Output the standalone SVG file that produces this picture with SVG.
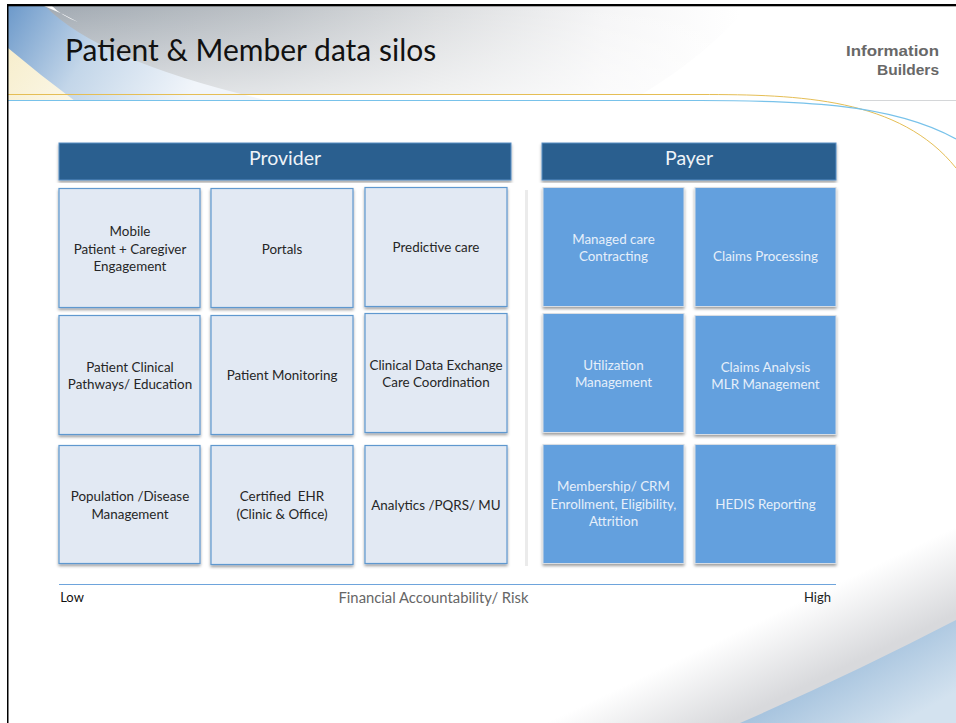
<svg xmlns="http://www.w3.org/2000/svg" width="956" height="723" viewBox="0 0 956 723">
<defs>
<linearGradient id="hdr" gradientUnits="userSpaceOnUse" x1="60" y1="0" x2="740" y2="0"><stop offset="0" stop-color="#a3abb3"/><stop offset="0.3" stop-color="#bcc1c6"/><stop offset="0.55" stop-color="#dadcde"/><stop offset="0.8" stop-color="#f5f5f6"/><stop offset="1" stop-color="#ffffff"/></linearGradient>
<linearGradient id="hdrV" x1="0" y1="0" x2="0" y2="1"><stop offset="0" stop-color="#ffffff" stop-opacity="0"/><stop offset="1" stop-color="#ffffff" stop-opacity="0.6"/></linearGradient>
<linearGradient id="blueL" gradientUnits="userSpaceOnUse" x1="10" y1="8" x2="180" y2="110"><stop offset="0" stop-color="#6f9bcb"/><stop offset="0.45" stop-color="#c3d6e9"/><stop offset="1" stop-color="#f1f5fa"/></linearGradient>
<linearGradient id="yel" gradientUnits="userSpaceOnUse" x1="10" y1="50" x2="75" y2="100"><stop offset="0" stop-color="#f7eecd"/><stop offset="1" stop-color="#fbf7e8"/></linearGradient>
<linearGradient id="grayBR" gradientUnits="userSpaceOnUse" x1="383" y1="801" x2="417" y2="872"><stop offset="0" stop-color="#ffffff"/><stop offset="1" stop-color="#d8d9dc"/></linearGradient>
<linearGradient id="blueBR" gradientUnits="userSpaceOnUse" x1="850" y1="660" x2="890" y2="730"><stop offset="0" stop-color="#a6c3de"/><stop offset="1" stop-color="#d3e2ef"/></linearGradient>
<filter id="sh" x="-5%" y="-5%" width="110%" height="112%"><feDropShadow dx="0" dy="2" stdDeviation="1.5" flood-color="#000" flood-opacity="0.38"/></filter>
</defs>
<style>
text{font-family:"Lato","Open Sans","Liberation Sans",sans-serif;text-anchor:middle;white-space:pre}
.hd rect{fill:#295e8f;stroke:#5b8fc4;stroke-width:1;filter:url(#sh)}
.hd text{fill:#eef3f8;font-size:19.5px}
.pv rect{fill:#e2e9f3;stroke:#5f98cf;stroke-width:1.2;filter:url(#sh)}
.pv text{fill:#262626;font-size:13.4px}
.py rect{fill:#64a0de;stroke:#d8dde3;stroke-width:1;filter:url(#sh)}
.py text{fill:#e6effa;font-size:13.4px}
.logo{text-anchor:end;font-family:"Liberation Sans",sans-serif;font-weight:700;font-size:15.500px;fill:#686868}
</style>
<g id="background">
<rect width="956" height="723" fill="#fff"/>
<rect width="956" height="723" fill="url(#grayBR)"/>
<path d="M956 620Q850 675 740 723H956Z" fill="url(#blueBR)"/>
<rect x="0" y="0" width="956" height="100" fill="#fff"/>
<rect x="0" y="100" width="600" height="500" fill="#fff"/>
<path d="M8 6H750Q700 60 640 95H8Z" fill="url(#hdr)"/>
<path d="M8 6H750Q700 60 640 95H8Z" fill="url(#hdrV)"/>
<path d="M8 6H45Q100 62 270 101H8Z" fill="url(#blueL)"/>
<path d="M8 48Q40 75 75 101H8Z" fill="url(#yel)"/>
<path d="M44 6Q62 13 78 22Q62 16 52 6Z" fill="#fff"/>
<path d="M8 94.500H700C800 94.500 900 98 956 168" fill="none" stroke="#e5be55" stroke-width="1"/>
<path d="M8 100.500H700C790 100.500 890 102 956 139" fill="none" stroke="#78c2ea" stroke-width="1.200"/>
<path d="M860 100.500H956" fill="none" stroke="#d4d6d8" stroke-width="1"/>
<path d="M526.500 190V566" stroke="#ebebeb" stroke-width="3"/>
<rect x="7" y="4" width="949" height="2.300" fill="#000"/>
<rect x="7" y="4" width="1.500" height="719" fill="#000"/>
</g>
<g id="title"><text x="65" y="61" style="text-anchor:start;font-size:30px;fill:#111">Patient &amp; Member data silos</text></g>
<g id="logo"><text class="logo" x="939" y="56" textLength="93" lengthAdjust="spacingAndGlyphs">Information</text><text class="logo" x="939" y="75" textLength="62" lengthAdjust="spacingAndGlyphs">Builders</text></g>
<g id="connectors"><path d="M59 584.500H836" stroke="#6ea4dc" stroke-width="1"/></g>
<g id="provider" class="hd"><rect x="59" y="143" width="452" height="37"/><text x="285" y="165">Provider</text></g>
<g id="payer" class="hd"><rect x="542" y="143" width="294" height="37"/><text x="689" y="165">Payer</text></g>
<g id="p1" class="pv"><rect x="59" y="188.500" width="141" height="119"/><text x="130" y="236">Mobile</text><text x="130" y="254">Patient + Caregiver</text><text x="130" y="271">Engagement</text></g>
<g id="p2" class="pv"><rect x="211" y="188.500" width="142" height="119"/><text x="282" y="254">Portals</text></g>
<g id="p3" class="pv"><rect x="365" y="187.500" width="142" height="119"/><text x="436" y="252">Predictive care</text></g>
<g id="p4" class="pv"><rect x="59" y="315.500" width="141" height="119"/><text x="130" y="372">Patient Clinical</text><text x="130" y="389">Pathways/ Education</text></g>
<g id="p5" class="pv"><rect x="211" y="315.500" width="142" height="119"/><text x="282" y="380">Patient Monitoring</text></g>
<g id="p6" class="pv"><rect x="365" y="313.500" width="142" height="119"/><text x="436" y="370">Clinical Data Exchange</text><text x="436" y="387">Care Coordination</text></g>
<g id="p7" class="pv"><rect x="59" y="445.500" width="141" height="118"/><text x="130" y="501">Population /Disease</text><text x="130" y="519">Management</text></g>
<g id="p8" class="pv"><rect x="211" y="445.500" width="142" height="119"/><text x="282" y="501">Certified  EHR</text><text x="282" y="519">(Clinic &amp; Office)</text></g>
<g id="p9" class="pv"><rect x="365" y="445.500" width="142" height="118"/><text x="436" y="510">Analytics /PQRS/ MU</text></g>
<g id="y1" class="py"><rect x="543" y="187.500" width="141" height="119"/><text x="613.500" y="244">Managed care</text><text x="613.500" y="261">Contracting</text></g>
<g id="y2" class="py"><rect x="695" y="187.500" width="141" height="119"/><text x="765.500" y="261">Claims Processing</text></g>
<g id="y3" class="py"><rect x="543" y="313.500" width="141" height="119"/><text x="613.500" y="370">Utilization</text><text x="613.500" y="387">Management</text></g>
<g id="y4" class="py"><rect x="695" y="315.500" width="141" height="119"/><text x="765.500" y="372">Claims Analysis</text><text x="765.500" y="389">MLR Management</text></g>
<g id="y5" class="py"><rect x="543" y="444.500" width="141" height="119"/><text x="613.500" y="491">Membership/ CRM</text><text x="613.500" y="509">Enrollment, Eligibility,</text><text x="613.500" y="526">Attrition</text></g>
<g id="y6" class="py"><rect x="695" y="444.500" width="141" height="119"/><text x="765.500" y="509">HEDIS Reporting</text></g>
<g id="axis"><text x="72" y="602" style="font-size:13px;fill:#111">Low</text><text x="433.500" y="603" style="font-size:14.800px;fill:#666">Financial Accountability/ Risk</text><text x="817.500" y="602" style="font-size:13px;fill:#222">High</text></g>
</svg>
